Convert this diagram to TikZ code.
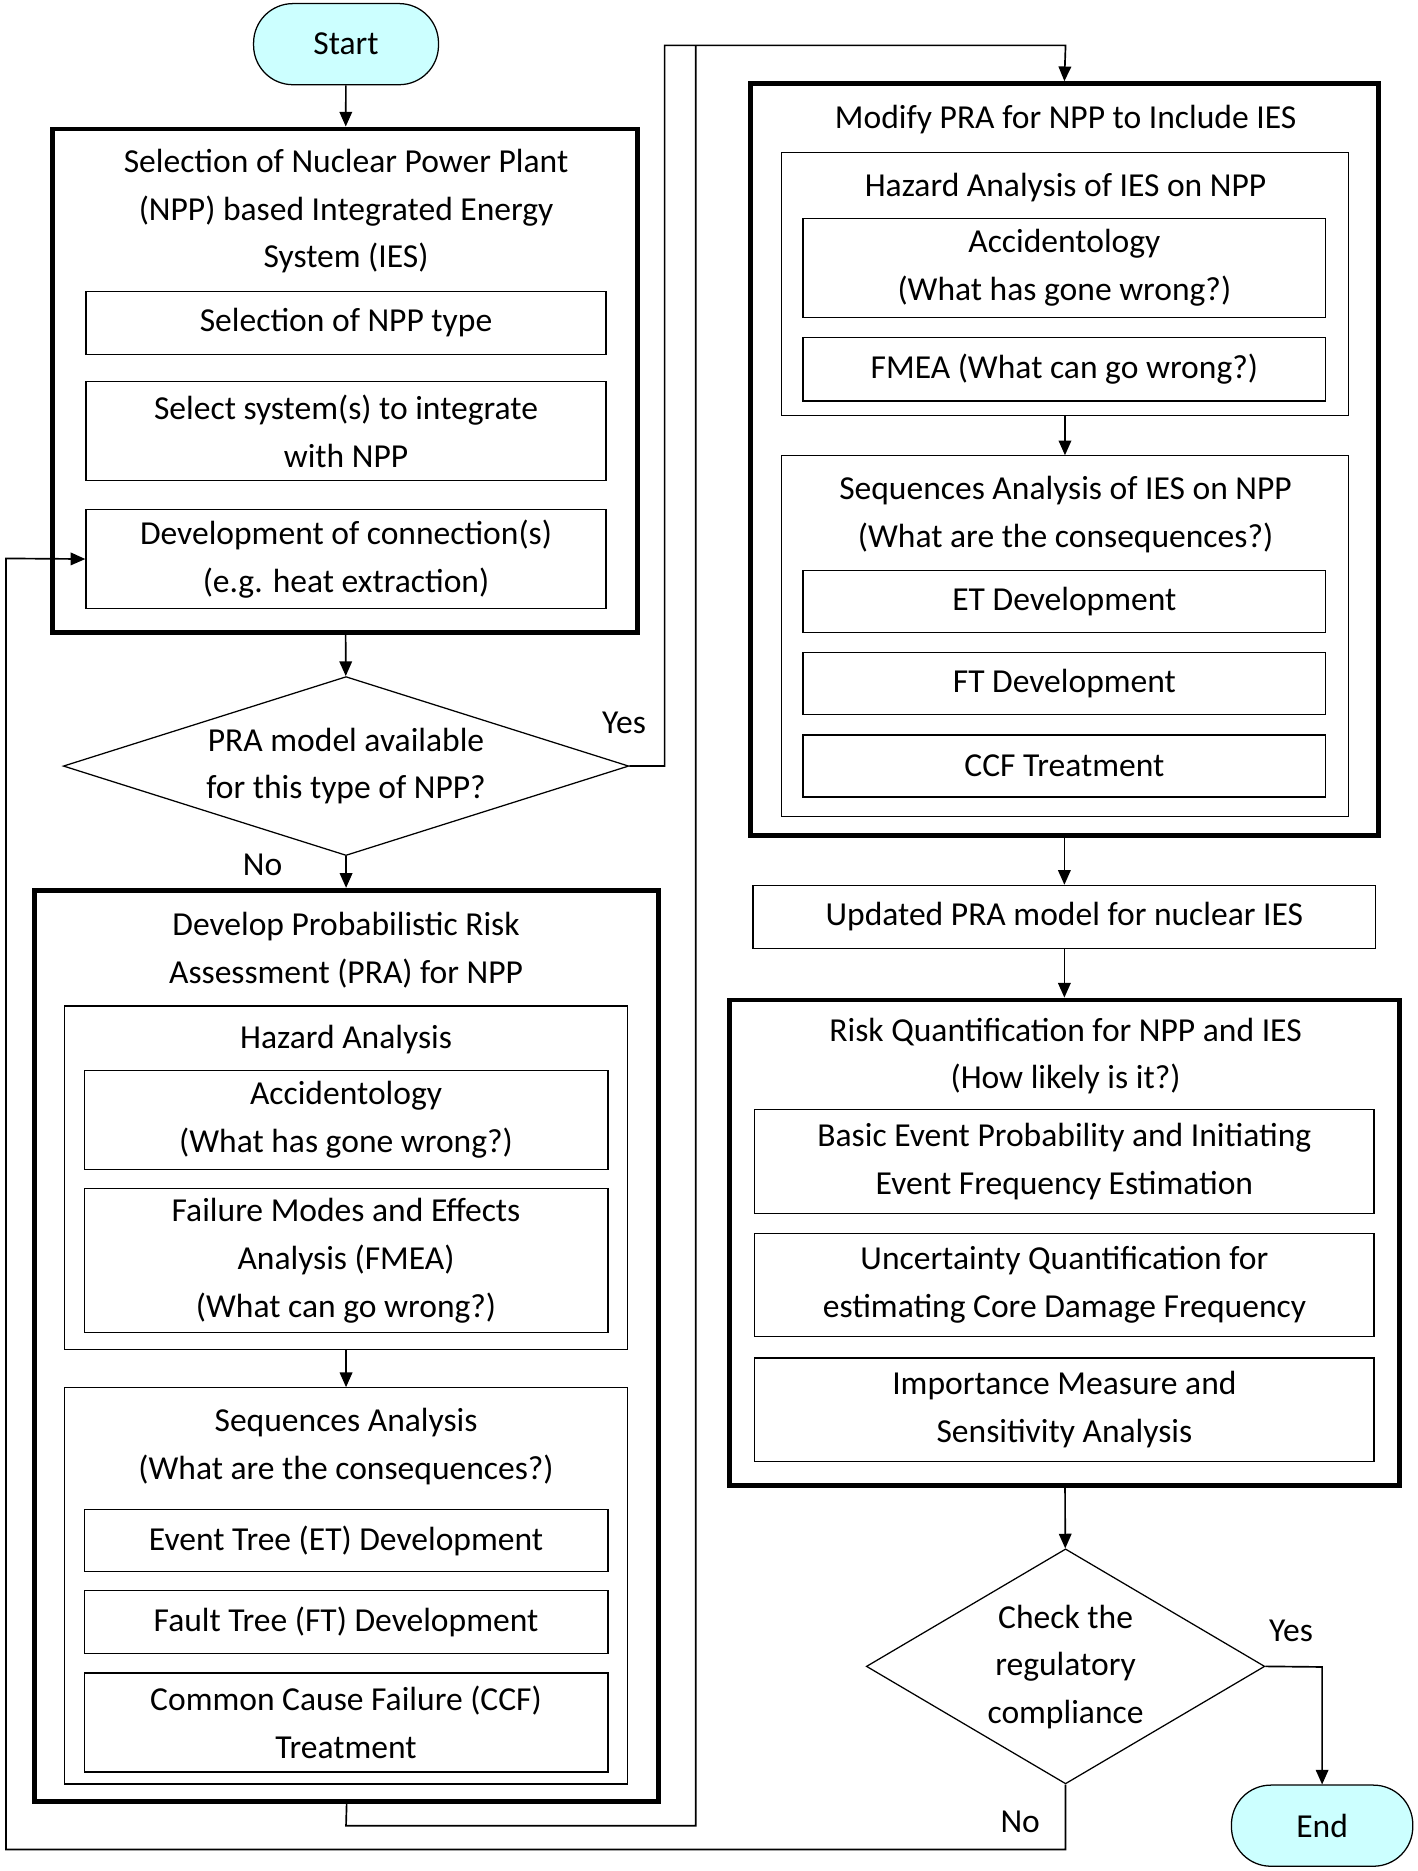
\documentclass[tikz,border=0pt]{standalone}
\usepackage{fontspec}
\setmainfont{Carlito}
\usetikzlibrary{shapes.geometric,arrows.meta}
\definecolor{termfill}{HTML}{CCFFFF}
\tikzset{
  every node/.style={font=\fontsize{16}{22.8}\selectfont, align=center},
  frame/.style={draw, line width=2.3pt, inner sep=0pt},
  group/.style={draw, line width=0.6pt, inner sep=0pt},
  item/.style={draw, line width=0.6pt, inner sep=0pt},
  term/.style={draw, line width=0.6pt, fill=termfill, rounded corners=0.66cm, minimum height=1.36cm},
  test/.style={draw, line width=0.6pt, diamond, inner sep=0pt},
  flow/.style={line width=0.8pt, -{Triangle[length=7pt,width=6pt]}},
  link/.style={line width=0.8pt},
}
\begin{document}
\begin{tikzpicture}[x=0.02cm,y=-0.02cm]
\useasboundingbox (0,0) rectangle (1188,1568);
% left column
\node[term, minimum width=3.1cm] (start) at (290,37) {Start};
\node[frame, minimum width=9.8cm, minimum height=8.44cm] (sel) at (289,319) {};
\node (selT) at (290,177) {Selection of Nuclear Power Plant\\(NPP) based Integrated Energy\\System (IES)};
\node[item, minimum width=8.72cm, minimum height=1.06cm] (selA) at (290,270.5) {Selection of NPP type};
\node[item, minimum width=8.72cm, minimum height=1.66cm] (selB) at (290,361.5) {Select system(s) to integrate\\with NPP};
\node[item, minimum width=8.72cm, minimum height=1.66cm] (selC) at (290,468.5) {Development of connection(s)\\(e.g. heat extraction)};
\node[test, minimum width=9.48cm, minimum height=3cm] (avail) at (290,642) {};
\node at (290,642) {PRA model available\\for this type of NPP?};
\node[frame, minimum width=10.46cm, minimum height=15.28cm] (dev) at (290.5,1128) {};
\node (devT) at (290,796) {Develop Probabilistic Risk\\Assessment (PRA) for NPP};
\node[group, minimum width=9.44cm, minimum height=5.76cm] (haz) at (290,987) {};
\node at (290,871) {Hazard Analysis};
\node[item, minimum width=8.78cm, minimum height=1.66cm] (hazA) at (290,938.5) {Accidentology\\(What has gone wrong?)};
\node[item, minimum width=8.78cm, minimum height=2.42cm] (hazB) at (290,1056.5) {Failure Modes and Effects\\Analysis (FMEA)\\(What can go wrong?)};
\node[group, minimum width=9.44cm, minimum height=6.64cm] (seq) at (290,1329) {};
\node at (290,1212) {Sequences Analysis\\(What are the consequences?)};
\node[item, minimum width=8.78cm, minimum height=1.04cm] (seqA) at (290,1291) {Event Tree (ET) Development};
\node[item, minimum width=8.78cm, minimum height=1.06cm] (seqB) at (290,1359.5) {Fault Tree (FT) Development};
\node[item, minimum width=8.78cm, minimum height=1.66cm] (seqC) at (290,1443.5) {Common Cause Failure (CCF)\\Treatment};
% right column
\node[frame, minimum width=10.52cm, minimum height=12.6cm] (mod) at (892,385) {};
\node (modT) at (893,100) {Modify PRA for NPP to Include IES};
\node[group, minimum width=9.5cm, minimum height=4.4cm] (ihaz) at (892.5,238) {};
\node at (893,157) {Hazard Analysis of IES on NPP};
\node[item, minimum width=8.76cm, minimum height=1.66cm] (ihazA) at (892,224.5) {Accidentology\\(What has gone wrong?)};
\node[item, minimum width=8.76cm, minimum height=1.06cm] (ihazB) at (892,309.5) {FMEA (What can go wrong?)};
\node[group, minimum width=9.5cm, minimum height=6.04cm] (iseq) at (892.5,533) {};
\node at (893,431) {Sequences Analysis of IES on NPP\\(What are the consequences?)};
\node[item, minimum width=8.76cm, minimum height=1.04cm] (iseqA) at (892,504) {ET Development};
\node[item, minimum width=8.76cm, minimum height=1.04cm] (iseqB) at (892,573) {FT Development};
\node[item, minimum width=8.76cm, minimum height=1.04cm] (iseqC) at (892,642) {CCF Treatment};
\node[item, minimum width=10.44cm, minimum height=1.06cm] (upd) at (892,768.5) {Updated PRA model for nuclear IES};
\node[frame, minimum width=11.24cm, minimum height=8.14cm] (risk) at (892,1041.5) {};
\node (riskT) at (893,885) {Risk Quantification for NPP and IES\\(How likely is it?)};
\node[item, minimum width=10.38cm, minimum height=1.74cm] (riskA) at (892,973.5) {Basic Event Probability and Initiating\\Event Frequency Estimation};
\node[item, minimum width=10.38cm, minimum height=1.72cm] (riskB) at (892,1077) {Uncertainty Quantification for\\estimating Core Damage Frequency};
\node[item, minimum width=10.38cm, minimum height=1.74cm] (riskC) at (892,1181.5) {Importance Measure and\\Sensitivity Analysis};
\node[test, minimum width=6.68cm, minimum height=3.94cm] (check) at (893,1396.5) {};
\node at (893,1397) {Check the\\regulatory\\compliance};
\node[term, minimum width=3.04cm] (end) at (1108,1530) {End};
% labels
\node (yes1) at (523,606) {Yes};
\node (no1) at (220,725) {No};
\node (yes2) at (1082,1367) {Yes};
\node (no2) at (855,1527) {No};
% connectors
\draw[flow] (start) -- (sel);
\draw[flow] (sel) -- (avail);
\draw[flow] (avail.south) -- (dev);
\draw[flow] (avail.east) -- (557,642) -- (557,38) -- (893,38) -- (mod.north);
\draw[link] (dev.south) -- (290,1530) -- (583,1530) -- (583,38);
\draw[flow] (haz.south) -- (seq.north);
\draw[flow] (ihaz.south) -- (iseq.north);
\draw[flow] (mod) -- (upd);
\draw[flow] (upd) -- (risk);
\draw[flow] (risk) -- (check);
\draw[flow] (check.east) -- (1108,1397) -- (end.north);
\draw[flow] (check.south) -- (893,1550) -- (5,1550) -- (5,468) -- (selC.west);
\end{tikzpicture}
\end{document}
